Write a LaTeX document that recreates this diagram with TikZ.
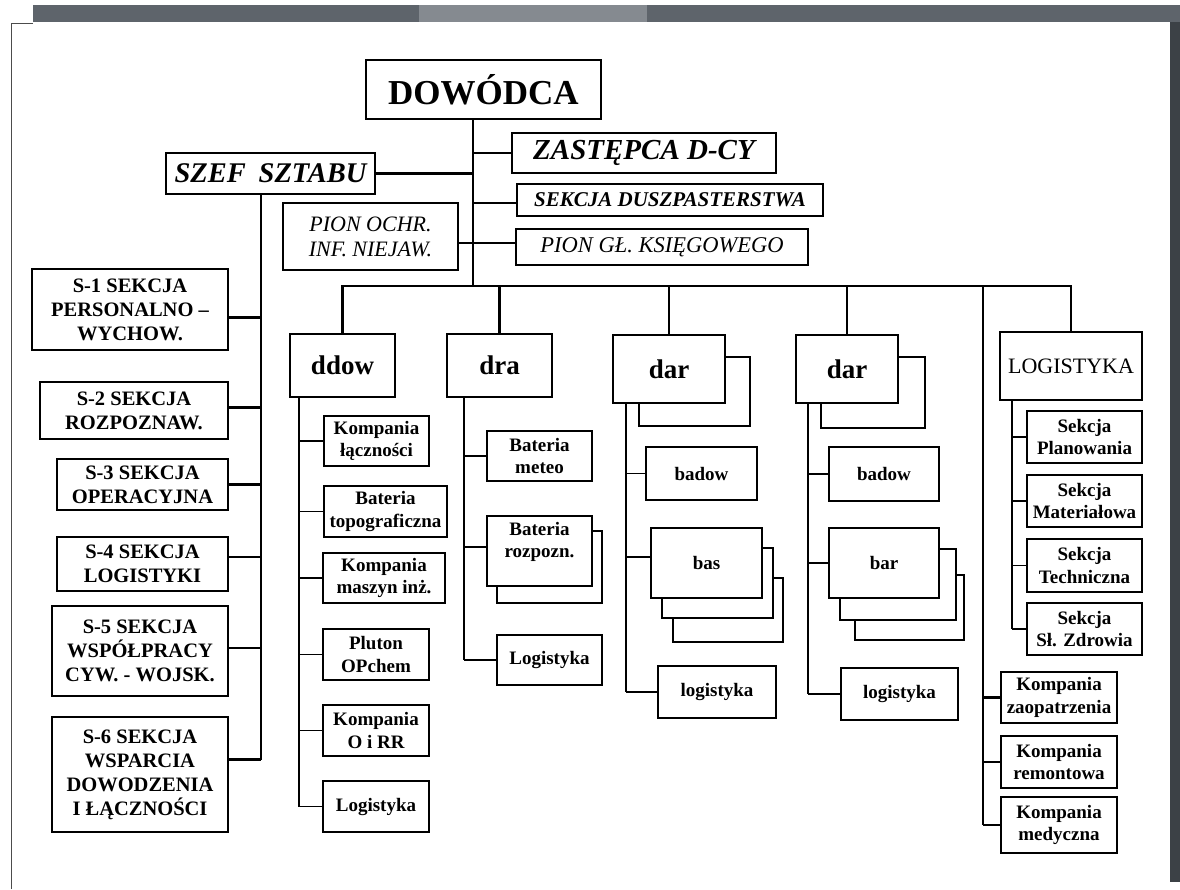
\documentclass[tikz,border=0pt]{standalone}
\usepackage{fontspec}
\setmainfont{Liberation Serif}
\newcommand\setfs[2]{\fontsize{#1}{#2}\selectfont}
% \orgbox{style}{name}{x1}{y1}{x2}{y2}{text}: a box given by its corners
\newcommand\orgbox[7]{\node[#1, minimum width={#5pt-#3pt}, minimum height={#6pt-#4pt}] (#2) at ({(#3+#5)/2},{(#4+#6)/2}) {#7};}
\definecolor{bandgrey}{HTML}{5E646B}
\definecolor{bandlight}{HTML}{858A90}
\definecolor{edgegrey}{HTML}{3C4146}
\tikzset{
  heavybox/.style={draw, line width=2.6pt, fill=white, inner sep=0pt, outer sep=0pt, align=center},
  lightbox/.style={draw, line width=1.1pt, fill=white, inner sep=0pt, outer sep=0pt, align=center},
  trunk/.style={line width=2.4pt, line join=miter},
  twig/.style={line width=1.1pt, line join=miter},
  hb/.style={font=\bfseries\setfs{20.5}{24}},
  sb/.style={font=\bfseries\setfs{19}{22.5}},
  big/.style={font=\bfseries\setfs{27}{30}},
}
\begin{document}
\begin{tikzpicture}[x=1pt,y=-1pt]
\useasboundingbox (0,0) rectangle (1180,889);
\fill[white] (0,0) rectangle (1180,889);
% page frame
\fill[bandgrey] (33,5) rectangle (1180,22);
\fill[bandlight] (419,5) rectangle (647,22);
\draw[line width=1pt, black!70] (11,889) -- (11,23) -- (33,23);
\fill[edgegrey] (1170,22) rectangle (1180,882);

% command level
\orgbox{heavybox, font=\bfseries\setfs{35}{38}}{dow}{366}{60}{601}{119}{DOWÓDCA}
\orgbox{heavybox, font=\bfseries\itshape\setfs{29}{31}}{zast}{512}{133}{776}{173}{ZASTĘPCA D-CY}
\orgbox{heavybox, font=\bfseries\itshape\setfs{28.5}{31}}{szef}{166}{153}{375}{194}{SZEF\hspace{0.2em} SZTABU}
\orgbox{heavybox, font=\bfseries\itshape\setfs{21}{24}}{sdusz}{517}{184}{823}{216}{SEKCJA DUSZPASTERSTWA}
\orgbox{heavybox, font=\itshape\setfs{22}{25}}{pochr}{283}{203}{458}{270}{PION OCHR.\\INF. NIEJAW.}
\orgbox{heavybox, font=\itshape\setfs{22.5}{25}}{pgl}{516}{229}{808}{265}{PION GŁ. KSIĘGOWEGO}

% staff sections
\orgbox{heavybox, hb}{s1}{32}{269}{228}{350}{S-1 SEKCJA\\PERSONALNO –\\WYCHOW.}
\orgbox{heavybox, hb}{s2}{40}{382}{228}{439}{S-2 SEKCJA\\ROZPOZNAW.}
\orgbox{heavybox, hb}{s3}{57}{459}{228}{510}{S-3 SEKCJA\\OPERACYJNA}
\orgbox{heavybox, hb}{s4}{57}{537}{228}{591}{S-4 SEKCJA\\LOGISTYKI}
\orgbox{heavybox, hb}{s5}{52}{606}{228}{696}{S-5 SEKCJA\\WSPÓŁPRACY\\CYW. - WOJSK.}
\orgbox{heavybox, hb}{s6}{52}{717}{228}{832}{S-6 SEKCJA\\WSPARCIA\\DOWODZENIA\\I ŁĄCZNOŚCI}

% subordinate units
\orgbox{heavybox, big}{ddow}{290}{334}{395}{397}{ddow}
\orgbox{heavybox, big}{dra}{447}{334}{552}{397}{dra}
\orgbox{heavybox}{darAback}{639}{357}{750}{426}{}
\orgbox{heavybox, big}{darA}{613}{335}{725}{403}{dar}
\orgbox{heavybox}{darBback}{821}{357}{925}{428}{}
\orgbox{heavybox, big}{darB}{796}{335}{898}{403}{dar}
\orgbox{heavybox, font=\setfs{22}{24}}{logi}{1000}{332}{1142}{400}{LOGISTYKA}

% ddow elements
\orgbox{lightbox, sb}{klacz}{324}{416}{429}{466}{Kompania\\łączności}
\orgbox{lightbox, sb}{btopo}{324}{486}{447}{537}{Bateria\\topograficzna}
\orgbox{lightbox, sb}{kmasz}{323}{553}{445}{603}{Kompania\\maszyn inż.}
\orgbox{lightbox, sb}{pchem}{323}{629}{429}{680}{Pluton\\OPchem}
\orgbox{lightbox, sb}{koirr}{323}{705}{429}{756}{Kompania\\O i RR}
\orgbox{lightbox, sb}{dlog}{323}{781}{429}{832}{Logistyka}

% dra elements
\orgbox{lightbox, sb}{bmeteo}{487}{431}{592}{481}{Bateria\\meteo}
\orgbox{lightbox}{brozback}{497}{531}{602}{603}{}
\orgbox{lightbox, sb}{broz}{487}{516}{592}{586}{Bateria\\rozpozn.\\~}
\orgbox{lightbox, sb}{rlog}{497}{635}{602}{685}{Logistyka}

% first dar elements
\orgbox{lightbox, sb}{badowA}{646}{447}{757}{500}{badow}
\orgbox{lightbox}{basC}{673}{578}{783}{642}{}
\orgbox{lightbox}{basB}{662}{548}{773}{618}{}
\orgbox{lightbox, sb}{basA}{651}{528}{762}{598}{bas}
\orgbox{lightbox, sb}{logA}{658}{666}{776}{718}{logistyka}

% second dar elements
\orgbox{lightbox, sb}{badowB}{829}{447}{939}{501}{badow}
\orgbox{lightbox}{barC}{855}{575}{964}{640}{}
\orgbox{lightbox}{barB}{840}{549}{956}{620}{}
\orgbox{lightbox, sb}{barA}{829}{528}{939}{598}{bar}
\orgbox{lightbox, sb}{logB}{841}{668}{958}{720}{logistyka}

% logistics sections
\orgbox{lightbox, sb}{splan}{1027}{411}{1142}{463}{Sekcja\\Planowania}
\orgbox{lightbox, sb}{smat}{1027}{475}{1142}{527}{Sekcja\\Materiałowa}
\orgbox{lightbox, sb}{stech}{1027}{539}{1142}{592}{Sekcja\\Techniczna}
\orgbox{lightbox, sb}{szdr}{1027}{603}{1142}{655}{Sekcja\\Sł. Zdrowia}
\orgbox{heavybox, sb}{kzao}{1001}{672}{1117}{723}{Kompania\\zaopatrzenia}
\orgbox{heavybox, sb}{krem}{1001}{736}{1117}{788}{Kompania\\remontowa}
\orgbox{heavybox, sb}{kmed}{1001}{797}{1117}{853}{Kompania\\medyczna}

% main trunk and bus
\coordinate (tk) at (473,286);
\coordinate (pj) at (473,243);
\draw[trunk] (dow.south -| tk) -- (tk);
\draw[trunk] (zast.west) -- (zast.west -| tk);
\draw[trunk] (szef.east) -- (szef.east -| tk);
\draw[trunk] ([yshift=-3pt]sdusz.west) -- ([yshift=-3pt]sdusz.west -| tk);
\draw[trunk] (pj -| pochr.east) -- (pj -| pgl.west);
\draw[trunk] (ddow.north) -- (ddow.north |- tk) -- (logi.north |- tk) -- (logi.north);
\foreach \n in {dra,darA,darB}
  \draw[trunk] (\n.north) -- (\n.north |- tk);

% chief of staff line
\coordinate (sv) at (261,0);
\draw[trunk] (szef.south -| sv) -- ([yshift=15pt]s6.east -| sv);
\draw[trunk] ([yshift=-8pt]s1.east) -- ([yshift=-8pt]s1.east -| sv);
\draw[trunk] ([yshift=3pt]s2.east) -- ([yshift=3pt]s2.east -| sv);
\draw[trunk] (s3.east) -- (s3.east -| sv);
\draw[trunk] ([yshift=7pt]s4.east) -- ([yshift=7pt]s4.east -| sv);
\draw[trunk] ([yshift=3pt]s5.east) -- ([yshift=3pt]s5.east -| sv);
\draw[trunk] ([yshift=15pt]s6.east) -- ([yshift=15pt]s6.east -| sv);

% companies under the bus
\coordinate (kv) at (983,286);
\draw[trunk] (kv) -- (kv |- kmed.west);
\foreach \n in {kzao,krem,kmed}
  \draw[trunk] (\n.west) -- (\n.west -| kv);

% unit sub-trees
\coordinate (dv) at (299,0);
\draw[twig] (ddow.south -| dv) -- (dlog.west -| dv);
\foreach \n in {klacz,btopo,kmasz,pchem,koirr,dlog}
  \draw[twig] (\n.west) -- (\n.west -| dv);

\coordinate (rv) at (464,0);
\draw[twig] (dra.south -| rv) -- (rlog.west -| rv);
\foreach \n in {bmeteo,rlog}
  \draw[twig] (\n.west) -- (\n.west -| rv);
\draw[twig] ([yshift=4pt]broz.west) -- ([yshift=4pt]broz.west -| rv);

\coordinate (av) at (626,0);
\draw[twig] (darA.south -| av) -- (logA.west -| av);
\foreach \n in {badowA,logA}
  \draw[twig] (\n.west) -- (\n.west -| av);
\draw[twig] ([yshift=6pt]basA.west) -- ([yshift=6pt]basA.west -| av);

\coordinate (bv) at (808,0);
\draw[twig] (darB.south -| bv) -- (logB.west -| bv);
\foreach \n in {badowB,barA,logB}
  \draw[twig] (\n.west) -- (\n.west -| bv);

\coordinate (lv) at (1012,0);
\draw[twig] (logi.south -| lv) -- (szdr.west -| lv);
\foreach \n in {splan,smat,stech,szdr}
  \draw[twig] (\n.west) -- (\n.west -| lv);
\end{tikzpicture}
\end{document}
